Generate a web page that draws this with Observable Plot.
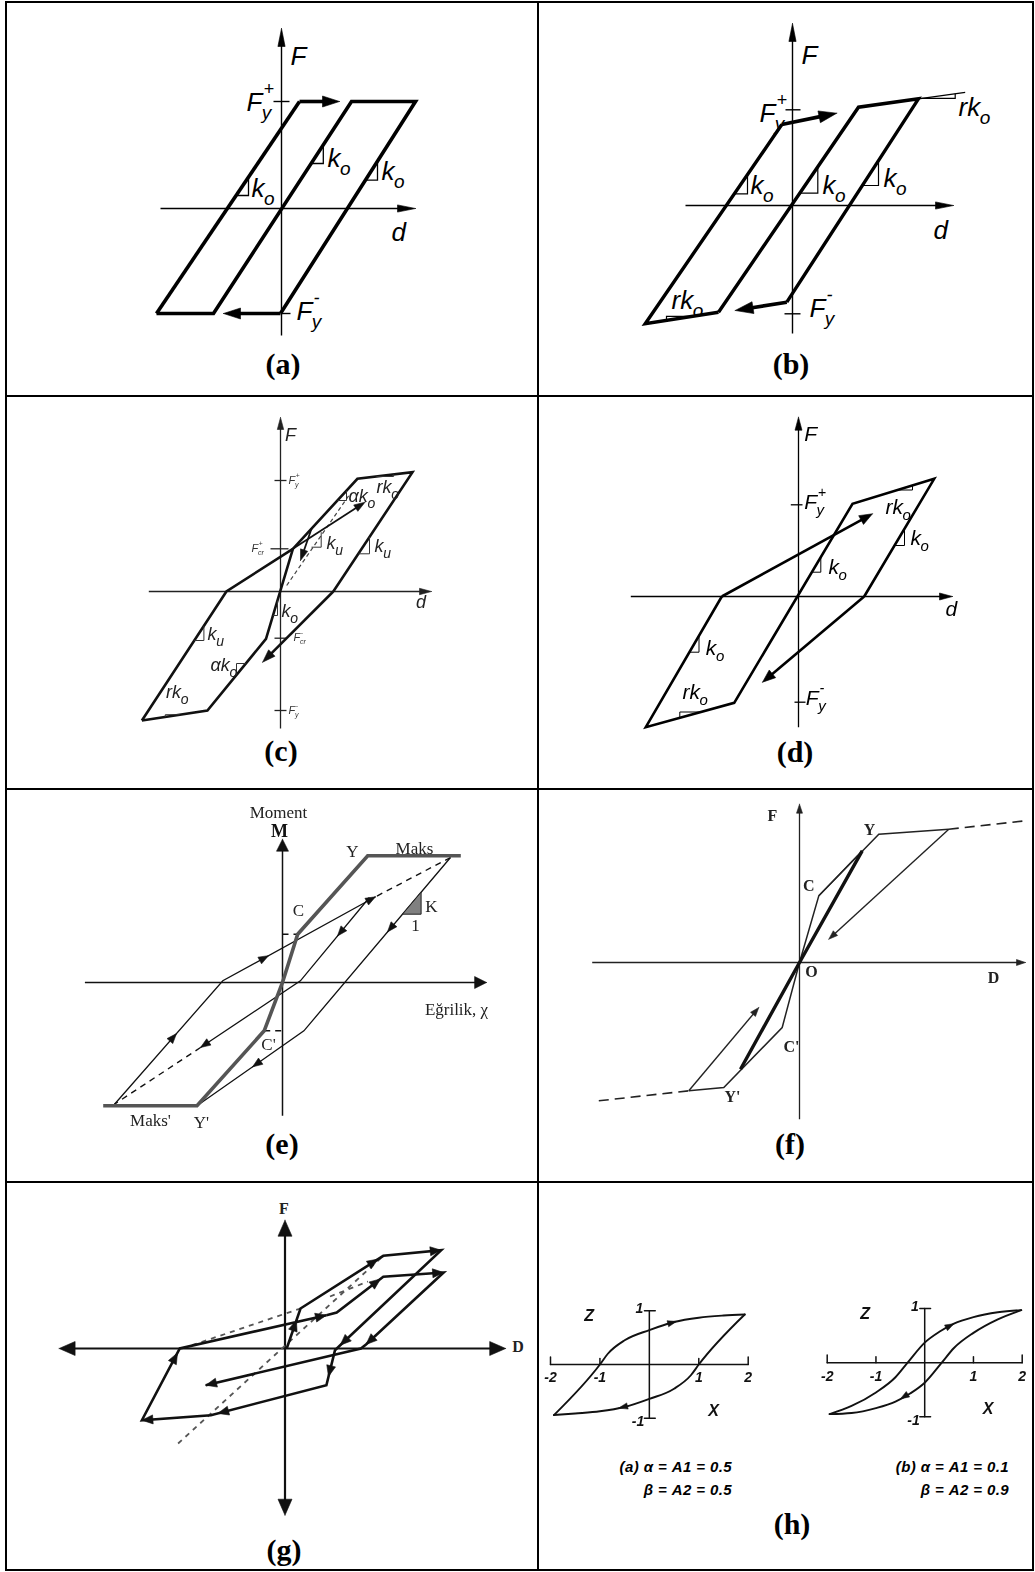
<!DOCTYPE html>
<html>
<head>
<meta charset="utf-8">
<script src="https://cdn.jsdelivr.net/npm/d3@7"></script>
<script src="https://cdn.jsdelivr.net/npm/@observablehq/plot@0.6"></script>
<style>
  body { margin: 0; background: #fff; }
  #page { position: relative; width: 1035px; height: 1572px; overflow: hidden; background: #fff; }
  .rule { position: absolute; background: #000; }
  .tag { position: absolute; font: bold 30px "Liberation Serif", serif; line-height: 1; transform: translate(-50%, -50%); white-space: nowrap; }
  .cap { position: absolute; font: italic bold 15px "Liberation Sans", sans-serif; letter-spacing: 0.4px; line-height: 23px; text-align: right; white-space: nowrap; }
</style>
</head>
<body>
<div id="page"></div>
<script>
// Hysteresis models. Each diagram is drawn in its own units (one unit per pixel,
// measured from where the force/moment axis crosses the deformation axis, y up).

// ---------- (a) elastic – perfectly plastic ----------
const aAxes = [{from: [-121, 0], tip: [134, 0]}, {from: [0, -127], tip: [0, 180]}];
const aLoop = [
  [[-125, -105], [18, 107]],
  [[-125, -105], [-68, -105], [70, 107], [134, 107], [-1, -105]]
];
const aArrows = [{from: [18, 107], tip: [58, 107]}, {from: [-1, -105], tip: [-58, -105]}];
const aTicks = [[[-8, 107], [8, 107]], [[0, -105], [9, -105]]];
const aSlopes = [[[-45, 13], [-33, 13], [-33, 30.8]], [[29.8, 45], [41.8, 45], [41.8, 63.4]], [[84, 28.3], [96, 28.3], [96, 47.2]]];
const aLabels = [
  {x: 9, y: 152, t: "F"}, {x: -35, y: 106, t: "F", sub: "y", sup: "+"}, {x: 15, y: -103, t: "F", sub: "y", sup: "-"},
  {x: -30, y: 20, t: "k", sub: "o"}, {x: 46, y: 50, t: "k", sub: "o"}, {x: 100, y: 37, t: "k", sub: "o"},
  {x: 110, y: -24, t: "d"}
];

// ---------- (b) bilinear with strain hardening ----------
const bAxes = [{from: [-107, 0], tip: [161, 0]}, {from: [0, -128], tip: [0, 182]}];
const bLoop = [
  [[-74, -106.7], [-147.3, -118.3], [-10.7, 81]],
  [[-74, -106.7], [66, 98.3], [126, 106.7], [-5.7, -96.7]]
];
const bArrows = [{from: [-10.7, 81], tip: [44.3, 92.3]}, {from: [-5.7, -96.7], tip: [-57.3, -105]}];
const bExtension = [[[126, 106.7], [172.7, 113.2]]];
const bTicks = [[[-7, 95.7], [8, 95.7]], [[-8, -108.3], [8, -108.3]]];
const bSlopes = [
  [[129.3, 107.2], [162.7, 107.2], [162.7, 111.8]], [[-100, -110.9], [-126, -110.9], [-126, -114.7]],
  [[-58.2, 11.7], [-45, 11.7], [-45, 31]], [[7.3, 12.3], [25.3, 12.3], [25.3, 38.7]], [[69.9, 20], [86, 20], [86, 44.9]]
];
const bLabels = [
  {x: 9, y: 150, t: "F"}, {x: -33, y: 92, t: "F", sub: "y", sup: "+"}, {x: 17, y: -103, t: "F", sub: "y", sup: "-"},
  {x: -42, y: 20, t: "k", sub: "o"}, {x: 30, y: 20, t: "k", sub: "o"}, {x: 91, y: 27, t: "k", sub: "o"},
  {x: 166, y: 98, t: "rk", sub: "o"}, {x: -121, y: -95, t: "rk", sub: "o"}, {x: 141, y: -25, t: "d"}
];

// ---------- (c) trilinear with cracking ----------
const cAxes = [{from: [-131.7, 0], tip: [151, 0]}, {from: [0, -137], tip: [0, 174]}];
const cLoop = [
  [[-138.6, -129], [-73.1, -119], [-14.5, -47.3], [12.4, 42.7], [76.9, 112.7], [132, 119.3], [52.8, 0]],
  [[-138.6, -129], [-54.1, 0], [12.4, 42.7]]
];
const cArrows = [{from: [52.8, 0], tip: [-17.9, -70.7]}];
const cThinArrows = [{from: [12.4, 42.7], tip: [84.5, 89.3]}, {from: [31, 62.7], tip: [20, 31]}];
const cDashed = [[[6.2, 6], [68.3, 96]]];
const cTicks = [[[-6, 111], [6, 111]], [[-10, 42.7], [8, 42.7]], [[-6, -46.7], [6, -46.7]], [[-6, -119], [6, -119]]];
const cSlopes = [
  [[56.9, 91], [66, 91], [66, 100.8]], [[95.9, 115], [113.1, 115], [113.1, 117.1]],
  [[31, 44.3], [40.7, 44.3], [40.7, 59.3]], [[77.8, 37.7], [89, 37.7], [89, 54.6]],
  [[-7.5, -24], [-3, -24], [-3, -9]], [[-86.2, -49], [-76.6, -49], [-76.6, -34.3]],
  [[-34.7, -72], [-44, -72], [-44, -83.4]], [[-100.7, -123.2], [-115.2, -123.2], [-115.2, -125.4]]
];
const cLabels = [
  {x: 4.5, y: 156, t: "F"}, {x: 68, y: 95, t: "αk", sub: "o"}, {x: 96, y: 104, t: "rk", sub: "o"},
  {x: 46, y: 48, t: "k", sub: "u"}, {x: 94, y: 45, t: "k", sub: "u"}, {x: 1, y: -20, t: "k", sub: "o"},
  {x: -73, y: -43, t: "k", sub: "u"}, {x: -70, y: -74, t: "αk", sub: "o"}, {x: -114.5, y: -101, t: "rk", sub: "o"},
  {x: 135.5, y: -11, t: "d"}
];
const cLevels = [
  {x: 8, y: 111, t: "F", sub: "y", sup: "+"}, {x: -29, y: 43, t: "F", sub: "cr", sup: "+"},
  {x: 13, y: -46, t: "F", sub: "cr", sup: "-"}, {x: 8, y: -119, t: "F", sub: "y", sup: "-"}
];

// ---------- (d) bilinear with pinching ----------
const dAxes = [{from: [-167.7, 0], tip: [154, 0]}, {from: [0, -130.7], tip: [0, 179.3]}];
const dLoop = [[[65.7, 0], [135.7, 117.7], [54, 92.7], [-64.3, -106.3], [-152.7, -130.7], [-76.7, 0]]];
const dArrows = [{from: [-76.7, 0], tip: [74, 82.7]}, {from: [65.7, 0], tip: [-36, -85.7]}];
const dTicks = [[[-7.7, 91.7], [4, 91.7]], [[-4, -105.7], [7, -105.7]]];
const dSlopes = [
  [[99, 106.5], [114, 106.5], [114, 111.1]], [[96, 51], [106, 51], [106, 67.8]],
  [[13.3, 24.3], [22.3, 24.3], [22.3, 39.4]], [[-109.1, -55.7], [-99.5, -55.7], [-99.5, -39.2]],
  [[-97.7, -115.5], [-118.7, -115.5], [-118.7, -121.3]]
];
const dLabels = [
  {x: 5.7, y: 162, t: "F"}, {x: 5.7, y: 94, t: "F", sub: "y", sup: "+"}, {x: 7.3, y: -102, t: "F", sub: "y", sup: "-"},
  {x: 147, y: -13, t: "d"}, {x: 87, y: 89, t: "rk", sub: "o"}, {x: 112, y: 58, t: "k", sub: "o"},
  {x: 30, y: 29, t: "k", sub: "o"}, {x: -92.7, y: -52, t: "k", sub: "o"}, {x: -116, y: -96, t: "rk", sub: "o"}
];

// ---------- (e) moment – curvature (Takeda type) ----------
const eAxes = [{from: [-197.6, 0], tip: [204.1, 0]}, {from: [0, -133.3], tip: [0, 143.3]}];
const eBackbone = [[[-179.3, -123.3], [-85.5, -123.3], [-18.3, -48.3], [0, 0], [15.2, 48.3], [85.2, 126.7], [178.3, 126.7]]];
const eBranches = [
  [[-168, -121.7], [-59.7, 1.7], [93, 85.7]],
  [[86.9, 85], [17.9, 1.7], [-82, -65]],
  [[168, 125], [21.4, -48.3], [-85.5, -123.3]]
];
const eDashed = [[[168, 125], [93, 85.7]], [[-82, -65], [-168, -121.7]], [[0, 48.3], [15.2, 48.3]], [[-18.3, -48.3], [0, -48.3]]];
const eHeads = [
  {tip: [93, 85.7], from: [-59.7, 1.7]}, {tip: [-106, -51.1], from: [-168, -121.7]}, {tip: [-14, 26.8], from: [-59.7, 1.7]},
  {tip: [55, 46.5], from: [86.9, 85]}, {tip: [-82, -65], from: [17.9, 1.7]}, {tip: [105, 50.6], from: [168, 125]},
  {tip: [-30, -84.4], from: [21.4, -48.3]}
];
const eStiffness = [[[120, 68.3], [138.6, 68.3], [138.6, 90.3], [120, 68.3]]];
const eLabels = [
  {x: 70, y: 131, t: "Y"}, {x: 132, y: 134, t: "Maks"}, {x: 16, y: 72, t: "C"}, {x: 149, y: 76, t: "K"},
  {x: 133, y: 57, t: "1"}, {x: 174, y: -27, t: "Eğrilik, χ"}, {x: -14, y: -62, t: "C'"},
  {x: -132, y: -138, t: "Maks'"}, {x: -81, y: -140, t: "Y'"}, {x: -4, y: 170, t: "Moment"}
];
const eAxisName = [{x: -3, y: 151, t: "M"}];

// ---------- (f) trilinear degrading (origin-oriented) ----------
const fAxes = [{from: [-207.3, 0], tip: [226, 0]}, {from: [0, -156.7], tip: [0, 158.3]}];
const fBackbone = [[[-110.7, -128.3], [-75.7, -125], [-17.3, -65], [0, 0], [19.3, 66.7], [79.3, 128.3], [149.3, 133.3]]];
const fDashed = [[[-200.7, -138.3], [-110.7, -128.3]], [[149.3, 133.3], [226, 141.7]]];
const fPeakLine = [[[-59, -106.7], [0, 0], [62.7, 111.7]]];
const fReload = [[[19.3, 66.7], [62.7, 111.7]]];
const fArrows = [{from: [149.3, 133.3], tip: [29.3, 23.3]}, {from: [-110.7, -128.3], tip: [-40.7, -45]}];
const fLabels = [
  {x: -27, y: 147, t: "F"}, {x: 70, y: 133, t: "Y"}, {x: 9.3, y: 77, t: "C"}, {x: 12, y: -9, t: "O"},
  {x: 194, y: -15, t: "D"}, {x: -8, y: -84, t: "C'"}, {x: -67, y: -134, t: "Y'"}
];

// ---------- (g) degrading loops ----------
const gAxes = [
  {from: [0, 0], tip: [220.7, 0]}, {from: [0, 0], tip: [-225.9, 0]},
  {from: [0, 0], tip: [0, 128.3]}, {from: [0, 0], tip: [0, -166.7]}
];
const gLoops = [
  [[1.7, 0], [15.5, 40], [98.3, 92.7], [156.2, 98.3], [55.2, 3.3], [50, -1.7], [41.4, -36.7], [-74.1, -66.7], [-143.1, -71.7], [-105.2, 0], [41.4, 33.3]],
  [[41.4, 33.3], [51.7, 36], [98.3, 71.7], [158.6, 76], [81, 4], [75.9, 0], [-79.3, -36.7]]
];
const gHeads = [
  {tip: [11.4, 28.3], from: [1.7, 0]}, {tip: [93.1, 89.4], from: [15.5, 40]}, {tip: [156.2, 98.3], from: [98.3, 92.7]},
  {tip: [55.2, 3.3], from: [156.2, 98.3]}, {tip: [43.5, -28], from: [50, -1.7]}, {tip: [-67.2, -64.9], from: [41.4, -36.7]},
  {tip: [-143.1, -71.7], from: [-74.1, -66.7]}, {tip: [-107.5, -4.4], from: [-143.1, -71.7]}, {tip: [41.4, 33.3], from: [-105.2, 0]},
  {tip: [95.5, 69.6], from: [51.7, 36]}, {tip: [158.6, 76], from: [98.3, 71.7]}, {tip: [81, 4], from: [158.6, 76]},
  {tip: [-79.3, -36.7], from: [75.9, 0]}
];
const gDashed = [[[-93, 3.3], [15.5, 40]], [[-106.9, -95], [98.3, 92.7]], [[45, 52], [83, 67]]];
const gLabels = [{x: -1, y: 140, t: "F"}, {x: 233, y: 2, t: "D"}];

// ---------- (h) Bouc–Wen loops, z against x ----------
const hTicksX = [-2, -1, 1, 2];
const hTickLabelsX = ["-2", "-1", "1", "2"];
const hUpperA = [[-1.93, -0.94], [-1.0, 0.0], [-0.84, 0.2], [-0.5, 0.45], [0, 0.64], [0.5, 0.79], [1.0, 0.87], [1.5, 0.91], [1.93, 0.93]];
const hLowerA = [[-1.93, -0.94], [-1.5, -0.91], [-1.0, -0.87], [-0.5, -0.79], [0, -0.64], [0.5, -0.45], [0.84, -0.2], [1.0, 0.0], [1.93, 0.93]];
const hHeadsA = [{tip: [0.55, 0.8], from: [0.3, 0.74]}, {tip: [-0.62, -0.81], from: [-0.3, -0.74]}];
const hUpperB = [[-1.95, -0.95], [-1.5, -0.8], [-1.0, -0.55], [-0.6, -0.27], [-0.35, 0.0], [0, 0.37], [0.3, 0.57], [0.6, 0.72], [1.0, 0.84], [1.5, 0.93], [1.98, 0.97]];
const hLowerB = [[-1.95, -0.95], [-1.5, -0.93], [-1.0, -0.84], [-0.6, -0.72], [-0.3, -0.57], [0, -0.37], [0.35, 0.0], [0.6, 0.27], [1.0, 0.55], [1.5, 0.8], [1.98, 0.97]];
const hHeadsB = [{tip: [0.6, 0.72], from: [0.35, 0.6]}, {tip: [-0.5, -0.67], from: [-0.25, -0.53]}];
const hCaptions = [["(a) α = A1 = 0.5", "β = A2 = 0.5"], ["(b) α = A1 = 0.1", "β = A2 = 0.9"]];

const panelTags = ["(a)", "(b)", "(c)", "(d)", "(e)", "(f)", "(g)", "(h)"];

// ---------- helpers ----------
const page = document.getElementById("page");
const measure = document.createElement("canvas").getContext("2d");
const textWidth = (s, font) => { measure.font = font; return measure.measureText(s).width; };
const rows = list => list.flatMap((pts, i) => pts.map(([x, y]) => ({id: i, x, y})));
const SANS = "Liberation Sans", SERIF = "Liberation Serif";

function unit(a, sx, sy) {
  let dx = (a.tip[0] - a.from[0]) * sx, dy = (a.tip[1] - a.from[1]) * sy;
  const n = Math.hypot(dx, dy);
  return [dx / n, dy / n];
}
// filled arrowhead triangles, sized in pixels
function headRows(list, len, hw, sx = 1, sy = 1) {
  return list.flatMap((a, i) => {
    const [ux, uy] = unit(a, sx, sy);
    const tx = a.tip[0] * sx, ty = a.tip[1] * sy;
    const bx = tx - ux * len, by = ty - uy * len;
    return [[tx, ty], [bx - uy * hw, by + ux * hw], [bx + uy * hw, by - ux * hw], [tx, ty]]
      .map(([x, y]) => ({id: i, x: x / sx, y: y / sy}));
  });
}
function shaftRows(list, len, sx = 1, sy = 1) {
  return list.flatMap((a, i) => {
    const [ux, uy] = unit(a, sx, sy);
    return [{id: i, x: a.from[0], y: a.from[1]},
            {id: i, x: a.tip[0] - ux * len * 0.6 / sx, y: a.tip[1] - uy * len * 0.6 / sy}];
  });
}
const lines = (list, o) => Plot.line(rows(list), {x: "x", y: "y", z: "id", strokeLinejoin: "miter", strokeMiterlimit: 6, strokeLinecap: "butt", ...o});
const heads = (list, len, hw, color, sx, sy) =>
  Plot.line(headRows(list, len, hw, sx, sy), {x: "x", y: "y", z: "id", fill: color, stroke: color, strokeWidth: 0.6, strokeLinejoin: "miter"});
const arrows = (list, {len, hw, color = "#000", width}) => [
  Plot.line(shaftRows(list, len), {x: "x", y: "y", z: "id", stroke: color, strokeWidth: width, strokeLinecap: "butt"}),
  heads(list, len, hw, color)
];
// italic symbols with subscript / superscript parts
function symbols(items, {size, family = SANS, style = "italic", weight = "normal", color = "#000", subDy, supDy, subSize}) {
  const font = `${style} ${weight} ${size}px "${family}"`;
  const base = {fontFamily: family, fontStyle: style, fontWeight: weight, fill: color, textAnchor: "start", lineAnchor: "middle"};
  const after = d => d.x + textWidth(d.t, font) - size * 0.02;
  return [
    Plot.text(items, {...base, x: "x", y: "y", text: "t", fontSize: size}),
    Plot.text(items.filter(d => d.sub), {...base, x: after, y: d => d.y - subDy, text: "sub", fontSize: subSize}),
    Plot.text(items.filter(d => d.sup), {...base, x: d => after(d) + size * 0.06, y: d => d.y + supDy, text: "sup", fontSize: subSize * 0.95})
  ];
}
const words = (items, o) => Plot.text(items, {x: "x", y: "y", text: "t", textAnchor: "middle", lineAnchor: "middle", ...o});

function mount(svg, left, top, blur) {
  svg.style.position = "absolute";
  svg.style.left = left + "px";
  svg.style.top = top + "px";
  if (blur) svg.style.filter = `blur(${blur}px)`;
  page.append(svg);
}
// one cell of the table: box in page pixels, origin = axis crossing
function panel([x0, y0, w, h], [ox, oy], marks, blur) {
  const svg = Plot.plot({
    width: w, height: h, margin: 0,
    x: {type: "linear", domain: [x0 - ox, x0 + w - ox], range: [0, w], axis: null},
    y: {type: "linear", domain: [oy - (y0 + h), oy - y0], range: [h, 0], axis: null},
    style: {background: "none", overflow: "visible", maxWidth: "none"},
    marks
  });
  mount(svg, x0, y0, blur);
}

// ---------- (a) ----------
panel([7, 3, 530, 392], [281, 208], [
  ...arrows(aAxes, {len: 18, hw: 3.6, width: 1.4}),
  lines(aTicks, {stroke: "#000", strokeWidth: 1.4}),
  lines(aLoop, {stroke: "#000", strokeWidth: 3.6}),
  ...arrows(aArrows, {len: 17, hw: 5.5, width: 3.6}),
  lines(aSlopes, {stroke: "#000", strokeWidth: 1.3}),
  ...symbols(aLabels, {size: 26, subDy: 10, supDy: 13, subSize: 19})
]);

// ---------- (b) ----------
panel([539, 3, 493, 392], [792, 205], [
  ...arrows(bAxes, {len: 18, hw: 3.6, width: 1.4}),
  lines(bTicks, {stroke: "#000", strokeWidth: 1.4}),
  lines(bExtension, {stroke: "#000", strokeWidth: 1.2}),
  lines(bLoop, {stroke: "#000", strokeWidth: 3.4}),
  ...arrows(bArrows, {len: 18, hw: 6, width: 3.6}),
  lines(bSlopes, {stroke: "#000", strokeWidth: 1.2}),
  ...symbols(bLabels, {size: 26, subDy: 10, supDy: 13, subSize: 19})
]);

// ---------- (c) ----------
panel([7, 397, 530, 391], [280, 591], [
  ...arrows(cAxes, {len: 12, hw: 3.2, width: 1.3, color: "#222"}),
  lines(cTicks, {stroke: "#222", strokeWidth: 1.3}),
  lines(cDashed, {stroke: "#444", strokeWidth: 1.2, strokeDasharray: "4,3"}),
  lines(cLoop, {stroke: "#111", strokeWidth: 2.6}),
  ...arrows(cArrows, {len: 13, hw: 4.5, width: 2.6, color: "#111"}),
  ...arrows(cThinArrows, {len: 11, hw: 3.8, width: 1.8, color: "#111"}),
  lines(cSlopes, {stroke: "#333", strokeWidth: 1}),
  ...symbols(cLabels, {size: 18, color: "#222", subDy: 7, supDy: 8, subSize: 14}),
  ...symbols(cLevels, {size: 11, color: "#333", subDy: 4, supDy: 5, subSize: 7})
], 0.6);

// ---------- (d) ----------
panel([539, 397, 493, 391], [798, 596], [
  ...arrows(dAxes, {len: 13, hw: 3.5, width: 1.3}),
  lines(dTicks, {stroke: "#000", strokeWidth: 1.3}),
  lines(dLoop, {stroke: "#000", strokeWidth: 2.6}),
  ...arrows(dArrows, {len: 13, hw: 5, width: 2.6}),
  lines(dSlopes, {stroke: "#000", strokeWidth: 1}),
  ...symbols(dLabels, {size: 21, subDy: 8, supDy: 10, subSize: 15})
], 0.4);

// ---------- (e) ----------
panel([7, 790, 530, 391], [282, 982], [
  ...arrows(eAxes, {len: 12, hw: 6, width: 1.5, color: "#111"}),
  lines(eDashed, {stroke: "#111", strokeWidth: 1.4, strokeDasharray: "6,5"}),
  lines(eBranches, {stroke: "#111", strokeWidth: 1.3}),
  lines(eBackbone, {stroke: "#555", strokeWidth: 3.6}),
  heads(eHeads, 10, 3.8, "#111"),
  lines(eStiffness, {stroke: "#222", strokeWidth: 1, fill: "#808080"}),
  words(eLabels, {fontFamily: SERIF, fontSize: 17, fill: "#222"}),
  words(eAxisName, {fontFamily: SERIF, fontSize: 18, fontWeight: "bold", fill: "#111"})
], 0.3);

// ---------- (f) ----------
panel([539, 790, 493, 391], [799, 962], [
  ...arrows(fAxes, {len: 9, hw: 3, width: 1.3, color: "#222"}),
  lines(fDashed, {stroke: "#222", strokeWidth: 1.6, strokeDasharray: "10,6"}),
  lines(fBackbone, {stroke: "#222", strokeWidth: 1.5}),
  lines(fReload, {stroke: "#222", strokeWidth: 1.4}),
  lines(fPeakLine, {stroke: "#111", strokeWidth: 3.4}),
  ...arrows(fArrows, {len: 9, hw: 3.2, width: 1.4, color: "#222"}),
  words(fLabels, {fontFamily: SERIF, fontSize: 16, fontWeight: "bold", fill: "#222"})
], 0.45);

// ---------- (g) ----------
panel([7, 1183, 530, 386], [284.5, 1348], [
  ...arrows(gAxes, {len: 16, hw: 7, width: 2.2, color: "#111"}),
  lines(gDashed, {stroke: "#555", strokeWidth: 1.8, strokeDasharray: "5,5"}),
  lines(gLoops, {stroke: "#111", strokeWidth: 2.6}),
  heads(gHeads, 11, 4.5, "#111"),
  words(gLabels, {fontFamily: SERIF, fontSize: 16, fontWeight: "bold", fill: "#222"})
]);

// ---------- (h) two small loops ----------
function loopPlot(left, top, w, h, xr, yr, upper, lower, headList) {
  const sx = (xr[1] - xr[0]) / 4, sy = (yr[0] - yr[1]) / 2;
  const axisRows = rows([[[-2, 0], [2, 0]], [[0, -1], [0, 1]],
    ...hTicksX.map(t => [[t, 0], [t, Math.abs(t) === 2 ? 0.14 : 0.11]]),
    [[-0.1, 1], [0.12, 1]], [[-0.1, -1], [0.12, -1]]]);
  const tickText = hTicksX.map((t, i) => ({x: t, y: -0.25, t: hTickLabelsX[i]}))
    .concat([{x: -0.2, y: 1.04, t: "1"}, {x: -0.23, y: -1.06, t: "-1"}]);
  const svg = Plot.plot({
    width: w, height: h, margin: 0,
    x: {type: "linear", domain: [-2, 2], range: xr, axis: null},
    y: {type: "linear", domain: [-1, 1], range: yr, axis: null},
    style: {background: "none", overflow: "visible", maxWidth: "none"},
    marks: [
      Plot.line(axisRows, {x: "x", y: "y", z: "id", stroke: "#111", strokeWidth: 1.5}),
      Plot.line(upper, {x: d => d[0], y: d => d[1], curve: "monotone-x", stroke: "#111", strokeWidth: 1.9}),
      Plot.line(lower, {x: d => d[0], y: d => d[1], curve: "monotone-x", stroke: "#111", strokeWidth: 1.9}),
      Plot.line(headRows(headList, 9, 3.2, sx, sy), {x: "x", y: "y", z: "id", fill: "#111", stroke: "#111", strokeWidth: 0.5}),
      words(tickText, {fontFamily: SANS, fontStyle: "italic", fontWeight: "bold", fontSize: 14, fill: "#111"}),
      words([{x: -1.22, y: 0.9, t: "Z"}, {x: 1.3, y: -0.86, t: "X"}], {fontFamily: SANS, fontStyle: "italic", fontWeight: "bold", fontSize: 16, fill: "#111"})
    ]
  });
  mount(svg, left, top, 0.25);
}
loopPlot(540, 1290, 230, 140, [10, 207.7], [127.8, 20.2], hUpperA, hLowerA, hHeadsA);
loopPlot(815, 1290, 215, 140, [11.7, 206.7], [126.3, 18], hUpperB, hLowerB, hHeadsB);

hCaptions.forEach((lines2, i) => {
  const div = document.createElement("div");
  div.className = "cap";
  div.style.right = (i === 0 ? 1035 - 732 : 1035 - 1009) + "px";
  div.style.top = "1455px";
  div.innerHTML = lines2.join("<br>");
  page.append(div);
});

// panel tags
const tagAt = [[283, 364], [791, 364], [281, 751], [795, 752], [282, 1144], [790, 1144], [284, 1550], [792, 1524]];
panelTags.forEach((t, i) => {
  const div = document.createElement("div");
  div.className = "tag";
  div.style.left = tagAt[i][0] + "px";
  div.style.top = tagAt[i][1] + "px";
  div.textContent = t;
  page.append(div);
});

// table rules
[[5, 1, 1029, 2], [5, 1569, 1029, 2], [5, 1, 2, 1570], [1032, 1, 2, 1570], [537, 1, 2, 1570],
 [5, 395, 1029, 2], [5, 788, 1029, 2], [5, 1181, 1029, 2]].forEach(([l, t, w, h]) => {
  const r = document.createElement("div");
  r.className = "rule";
  Object.assign(r.style, {left: l + "px", top: t + "px", width: w + "px", height: h + "px"});
  page.append(r);
});
</script>
</body>
</html>
